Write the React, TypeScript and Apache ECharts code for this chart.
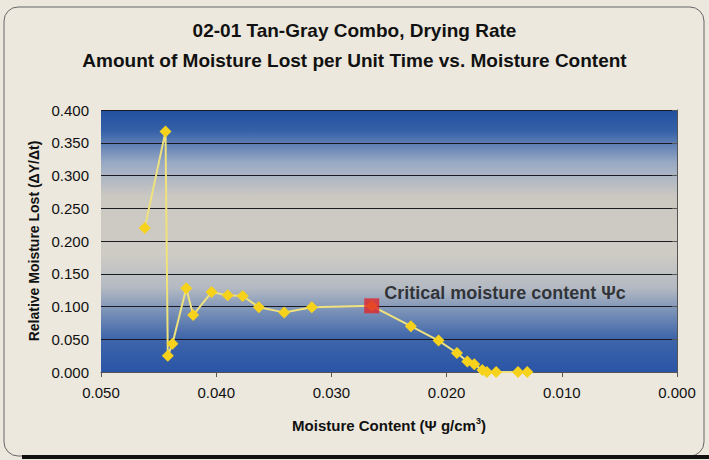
import React, { useEffect, useRef } from "react";
import * as echarts from "echarts";

const titleLines = ["02-01 Tan-Gray Combo, Drying Rate", "Amount of Moisture Lost per Unit Time vs. Moisture Content"];
const moistureContent = [0.0462, 0.0444, 0.0442, 0.0438, 0.0426, 0.0420, 0.0404, 0.0390, 0.0377, 0.0363, 0.0341, 0.0317, 0.0265, 0.0231, 0.0207, 0.0191, 0.0182, 0.0176, 0.0169, 0.0165, 0.0157, 0.0138, 0.0130];
const moistureLost = [0.220, 0.367, 0.025, 0.043, 0.128, 0.087, 0.122, 0.117, 0.116, 0.099, 0.091, 0.099, 0.101, 0.070, 0.048, 0.029, 0.016, 0.012, 0.003, 0.000, 0.000, 0.000, 0.000];
const criticalPoint = [0.0265, 0.101];
const criticalLabel = "Critical moisture content Ψc";

export default function App() {
  const ref = useRef<HTMLDivElement>(null);
  useEffect(() => {
    document.body.style.margin = "0";
    const chart = echarts.init(ref.current!, null, { renderer: "svg" });
    const font = "'Liberation Sans', Arial, sans-serif";
    const tickLabel = {
      fontFamily: font,
      fontSize: 15,
      color: "#111",
    };
    chart.setOption({
      animation: false,
      backgroundColor: "#ece8dd",
      title: {
        text: titleLines.join("\n"),
        left: "center",
        top: 10,
        textStyle: { fontFamily: font, fontSize: 19, fontWeight: "bold", color: "#111", lineHeight: 30 },
      },
      graphic: [
        { type: "rect", shape: { x: 4, y: 7, width: 700, height: 449, r: 14 }, style: { fill: "none", stroke: "#666", lineWidth: 1 }, silent: true },
        { type: "line", shape: { x1: 22, y1: 457, x2: 709, y2: 457 }, style: { stroke: "#111", lineWidth: 4 }, silent: true },
      ],
      grid: {
        left: 101, right: 32, top: 110, bottom: 88,
        show: true,
        borderWidth: 0,
        backgroundColor: new echarts.graphic.LinearGradient(0, 0, 0, 1, [
          { offset: 0, color: "#22509e" },
          { offset: 0.08, color: "#3561a8" },
          { offset: 0.2, color: "#98a9c4" },
          { offset: 0.33, color: "#cbc8c2" },
          { offset: 0.55, color: "#cfccc5" },
          { offset: 0.68, color: "#b3b9c2" },
          { offset: 0.76, color: "#7f95b8" },
          { offset: 0.87, color: "#3f66aa" },
          { offset: 1, color: "#2a55a6" },
        ]),
      },
      xAxis: {
        type: "value",
        inverse: true,
        min: 0,
        max: 0.05,
        interval: 0.01,
        name: "Moisture Content (Ψ g/cm{sup|3})",
        nameLocation: "middle",
        nameGap: 44,
        nameTextStyle: {
          fontFamily: font, fontSize: 15, fontWeight: "bold", color: "#111",
          rich: { sup: { fontSize: 9, fontWeight: "bold", verticalAlign: "top", padding: [0, 0, 9, 0], color: "#111" } },
        },
        axisLine: { show: true, lineStyle: { color: "#555", width: 1 } },
        axisTick: { show: true, inside: false, length: 5, lineStyle: { color: "#555" } },
        axisLabel: { ...tickLabel, formatter: (v: number) => v.toFixed(3), margin: 13 },
        splitLine: { show: false },
      },
      yAxis: {
        type: "value",
        min: 0,
        max: 0.4,
        interval: 0.05,
        name: "Relative Moisture Lost (ΔY/Δt)",
        nameLocation: "middle",
        nameGap: 60,
        nameTextStyle: { fontFamily: font, fontSize: 14, fontWeight: "bold", color: "#111" },
        axisLine: { show: true, lineStyle: { color: "#555", width: 1 } },
        axisTick: { show: true, inside: false, length: 5, lineStyle: { color: "#555" } },
        axisLabel: { ...tickLabel, formatter: (v: number) => v.toFixed(3), margin: 12 },
        splitLine: { show: true, lineStyle: { color: "#1a1a22", width: 1.2 } },
      },
      series: [
        {
          type: "line",
          data: moistureContent.map((x, i) => [x, moistureLost[i]]),
          symbol: "diamond",
          symbolSize: 12,
          lineStyle: { color: "#efe27c", width: 2 },
          itemStyle: { color: "#f7d21c" },
          z: 3,
        },
        {
          type: "scatter",
          data: [criticalPoint],
          symbol: "rect",
          symbolSize: 15,
          itemStyle: { color: "#e0262b" },
          label: {
            show: true,
            position: "right",
            formatter: criticalLabel,
            offset: [0, -13],
            fontFamily: font,
            fontSize: 18,
            fontWeight: "bold",
            color: "#111",
          },
          z: 4,
        },
      ],
    });
    return () => chart.dispose();
  }, []);
  return <div ref={ref} style={{ width: 709, height: 460 }} />;
}
